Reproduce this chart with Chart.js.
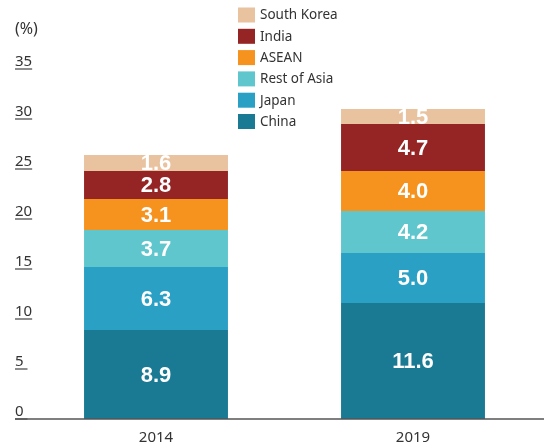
<!DOCTYPE html>
<html>
<head>
<meta charset="utf-8">
<script src="https://cdn.jsdelivr.net/npm/chart.js@4.4.1/dist/chart.umd.min.js"></script>
<style>
html,body{margin:0;padding:0;background:#fff;}
canvas{display:block;}
</style>
</head>
<body>
<canvas id="c" width="544" height="444"></canvas>
<script>
const categories = ['2014', '2019'];
const china = [8.9, 11.6];
const japan = [6.3, 5.0];
const restOfAsia = [3.7, 4.2];
const asean = [3.1, 4.0];
const india = [2.8, 4.7];
const southKorea = [1.6, 1.5];
const yTicks = [0, 5, 10, 15, 20, 25, 30, 35];
const yUnit = '(%)';

const seriesNames = ['China', 'Japan', 'Rest of Asia', 'ASEAN', 'India', 'South Korea'];
const seriesData = [china, japan, restOfAsia, asean, india, southKorea];
const seriesColors = ['#1a7a94', '#2aa0c5', '#5ec6cc', '#f6921e', '#952525', '#e9c29f'];

const TXT = '#333333';
const FONT = '"Noto Sans", "DejaVu Sans", sans-serif';

const drawPlugin = {
  id: 'custom',
  afterDatasetsDraw(chart) {
    const ctx = chart.ctx;
    ctx.save();
    ctx.fillStyle = '#ffffff';
    ctx.font = 'bold 22px "Liberation Sans", Arial, sans-serif';
    ctx.textAlign = 'center';
    ctx.textBaseline = 'middle';
    chart.data.datasets.forEach((ds, di) => {
      const meta = chart.getDatasetMeta(di);
      meta.data.forEach((bar, i) => {
        const p = bar.getCenterPoint();
        ctx.fillText(ds.data[i].toFixed(1), p.x, p.y + 1);
      });
    });
    ctx.restore();
  },
  afterDraw(chart) {
    const ctx = chart.ctx;
    const ys = chart.scales.y;
    const xs = chart.scales.x;
    ctx.save();
    ctx.font = '15px ' + FONT;
    ctx.fillStyle = TXT;
    ctx.strokeStyle = '#444444';
    ctx.textAlign = 'left';
    ctx.textBaseline = 'alphabetic';
    const lx = 15;
    yTicks.forEach(v => {
      const py = ys.getPixelForValue(v);
      const s = String(v);
      ctx.fillText(s, lx, py - 3.5);
      const w = Math.max(ctx.measureText(s).width, 12.5);
      ctx.lineWidth = 1.2;
      ctx.beginPath();
      ctx.moveTo(lx, py);
      ctx.lineTo(lx + w, py);
      ctx.stroke();
    });
    ctx.font = '16px ' + FONT;
    ctx.fillText(yUnit, lx, 34);
    const y0 = ys.getPixelForValue(0);
    ctx.lineWidth = 1.5;
    ctx.strokeStyle = '#555555';
    ctx.beginPath();
    ctx.moveTo(lx, y0);
    ctx.lineTo(chart.width, y0);
    ctx.stroke();
    ctx.font = '15px ' + FONT;
    ctx.textAlign = 'center';
    categories.forEach((c, i) => {
      ctx.fillText(c, xs.getPixelForValue(i), 442);
    });
    ctx.font = '13.5px ' + FONT;
    ctx.textAlign = 'left';
    ctx.textBaseline = 'middle';
    const n = seriesNames.length;
    for (let k = 0; k < n; k++) {
      const idx = n - 1 - k;
      const cy = 15 + k * 21.3;
      ctx.fillStyle = seriesColors[idx];
      ctx.fillRect(238, cy - 7.5, 17, 15);
      ctx.fillStyle = TXT;
      ctx.fillText(seriesNames[idx], 260, cy + 0.5);
    }
    ctx.restore();
  }
};

new Chart(document.getElementById('c'), {
  type: 'bar',
  data: {
    labels: categories,
    datasets: seriesData.map((d, i) => ({
      label: seriesNames[i],
      data: d,
      backgroundColor: seriesColors[i],
      borderWidth: 0,
      barPercentage: 0.56,
      categoryPercentage: 1.0
    }))
  },
  options: {
    responsive: false,
    animation: false,
    layout: { padding: { left: 27.5, right: 2.5, top: 69, bottom: 25 } },
    plugins: { legend: { display: false }, tooltip: { enabled: false } },
    scales: {
      x: { stacked: true, display: false },
      y: { stacked: true, display: false, min: 0, max: 35 }
    }
  },
  plugins: [drawPlugin]
});
</script>
</body>
</html>
